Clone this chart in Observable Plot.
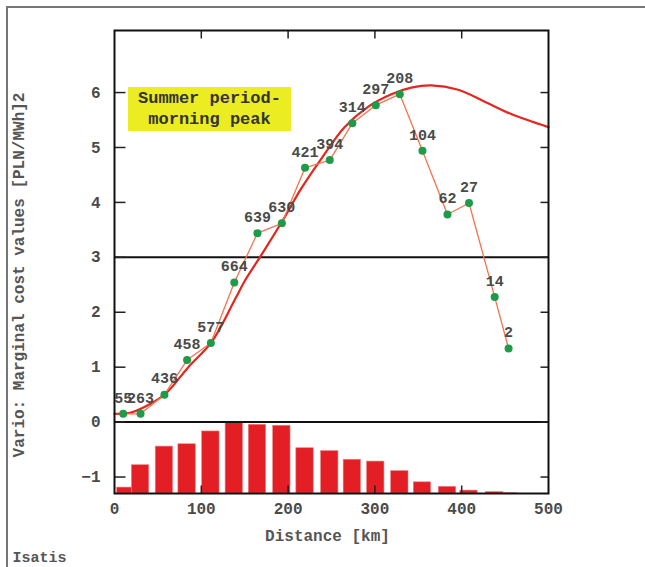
<!DOCTYPE html>
<html>
<head>
<meta charset="utf-8">
<script src="https://cdn.jsdelivr.net/npm/d3@7"></script>
<script src="https://cdn.jsdelivr.net/npm/@observablehq/plot@0.6"></script>
<style>
  body { margin: 0; background: #fff; }
  #wrap { position: relative; width: 645px; height: 567px; overflow: hidden; }
  #border { position: absolute; left: 6px; top: 6px; right: -10px; bottom: -10px;
            border-left: 2px solid #777; border-top: 2px solid #777; pointer-events: none; }
  #legend { position: absolute; left: 128px; top: 87px; width: 163px; height: 44px;
            background: #ecec22; font-family: "Liberation Mono", monospace; font-weight: bold;
            font-size: 17px; color: #333; text-align: center; line-height: 21px;
            padding-top: 1px; box-sizing: border-box; }
</style>
</head>
<body>
<div id="wrap">
  <div id="chart"></div>
  <div id="border"></div>
  <div id="legend">Summer period-<br>morning peak</div>
</div>
<script>
// Experimental variogram: lag distance (km), value, number of pairs
const lags   = [10, 30, 57.5, 83.6, 111, 138, 164.7, 192.8, 219.5, 248, 274, 301, 328.7, 354.8, 383.6, 408.4, 438, 454];
const values = [0.15, 0.15, 0.50, 1.13, 1.44, 2.54, 3.44, 3.62, 4.63, 4.77, 5.44, 5.77, 5.97, 4.94, 3.78, 3.99, 2.28, 1.34];
const counts = [55, 263, 436, 458, 577, 664, 639, 630, 421, 394, 314, 297, 208, 104, 62, 27, 14, 2];

// Fitted model curve
const modelDist = [0, 20, 40, 59, 85, 112, 139, 150, 165, 177, 196, 215, 238, 265, 292, 319, 342, 365, 396, 427, 457, 500];
const modelVal  = [0.15, 0.18, 0.32, 0.52, 1.0, 1.46, 2.24, 2.57, 2.94, 3.24, 3.73, 4.25, 4.79, 5.37, 5.74, 5.97, 6.09, 6.13, 6.05, 5.83, 5.61, 5.37];

const xTicks = [0, 100, 200, 300, 400, 500];
const yTicks = [-1, 0, 1, 2, 3, 4, 5, 6];
const separators = [0, 3];
const yDomain = [-1.3, 7.13];
const xDomain = [0, 500];

const points = lags.map((lag, i) => ({lag, value: values[i], count: counts[i]}));
const model = modelDist.map((d, i) => ({d, v: modelVal[i]}));
const maxCount = d3.max(counts);
const yMin = yDomain[0];

const W = 645, H = 567, mL = 114, mR = 97, mT = 30, mB = 74;
const plotW = W - mL - mR, plotH = H - mT - mB;
// convert tick lengths in pixels to data units
const xPerPx = (xDomain[1] - xDomain[0]) / plotW;
const yPerPx = (yDomain[1] - yDomain[0]) / plotH;
const tickStyle = {stroke: "#222", strokeWidth: 1.5};
const innerX = xTicks.slice(1, -1);

const plot = Plot.plot({
  width: W,
  height: H,
  marginLeft: mL,
  marginRight: mR,
  marginTop: mT,
  marginBottom: mB,
  style: {fontFamily: "Liberation Mono, monospace", fontSize: "16px", fontWeight: "bold", color: "#4a4a4a", background: "transparent"},
  x: {domain: xDomain, ticks: xTicks},
  y: {domain: yDomain, ticks: yTicks},
  marks: [
    // pair-count histogram in the lower panel
    Plot.rect(points, {
      x1: d => Math.max(d.lag - 10, 3), x2: d => d.lag + 10,
      y1: yMin, y2: d => yMin + d.count / maxCount * (0 - yMin),
      fill: "#e31e24", stroke: "#f08080", strokeWidth: 0.6
    }),
    Plot.ruleY(separators, {stroke: "#111", strokeWidth: 2}),
    // inward ticks
    Plot.link(yTicks, {x1: xDomain[0], x2: xDomain[0] + 11 * xPerPx, y1: d => d, y2: d => d, ...tickStyle}),
    Plot.link(yTicks, {x1: xDomain[1] - 8 * xPerPx, x2: xDomain[1], y1: d => d, y2: d => d, ...tickStyle}),
    Plot.link(innerX, {x1: d => d, x2: d => d, y1: yDomain[1], y2: yDomain[1] - 8 * yPerPx, ...tickStyle}),
    Plot.link(innerX, {x1: d => d, x2: d => d, y1: yDomain[0], y2: yDomain[0] + 8 * yPerPx, ...tickStyle}),
    Plot.axisY(yTicks, {tickSize: 0, tickPadding: 14, label: null, fill: "#4a4a4a", tickFormat: d => d < 0 ? "\u2212" + (-d) : String(d)}),
    Plot.axisX(xTicks, {tickSize: 0, tickPadding: 9, label: null, fill: "#4a4a4a"}),
    // fitted model
    Plot.line(model, {x: "d", y: "v", curve: "catmull-rom", stroke: "#e3261e", strokeWidth: 2.2}),
    // experimental variogram
    Plot.line(points, {x: "lag", y: "value", stroke: "#f27452", strokeWidth: 1.3}),
    Plot.dot(points, {x: "lag", y: "value", r: 4, fill: "#1f9a48"}),
    Plot.text(points, {x: "lag", y: "value", text: d => String(d.count), dy: -16, fill: "#4a4a4a", fontSize: 15}),
    Plot.frame({stroke: "#111", strokeWidth: 2}),
    // axis titles
    Plot.text(["Vario: Marginal cost values [PLN/MWh]2"], {frameAnchor: "left", textAnchor: "middle", lineAnchor: "middle", dx: -96, dy: 13, rotate: -90, fill: "#555", fontSize: 16}),
    Plot.text(["Distance [km]"], {frameAnchor: "bottom", textAnchor: "middle", lineAnchor: "middle", dx: -4, dy: 42, fill: "#555", fontSize: 16}),
    Plot.text(["Isatis"], {frameAnchor: "bottom-left", textAnchor: "start", lineAnchor: "middle", dx: -102, dy: 64, fill: "#555", fontSize: 15})
  ]
});
document.getElementById("chart").appendChild(plot);
</script>
</body>
</html>
